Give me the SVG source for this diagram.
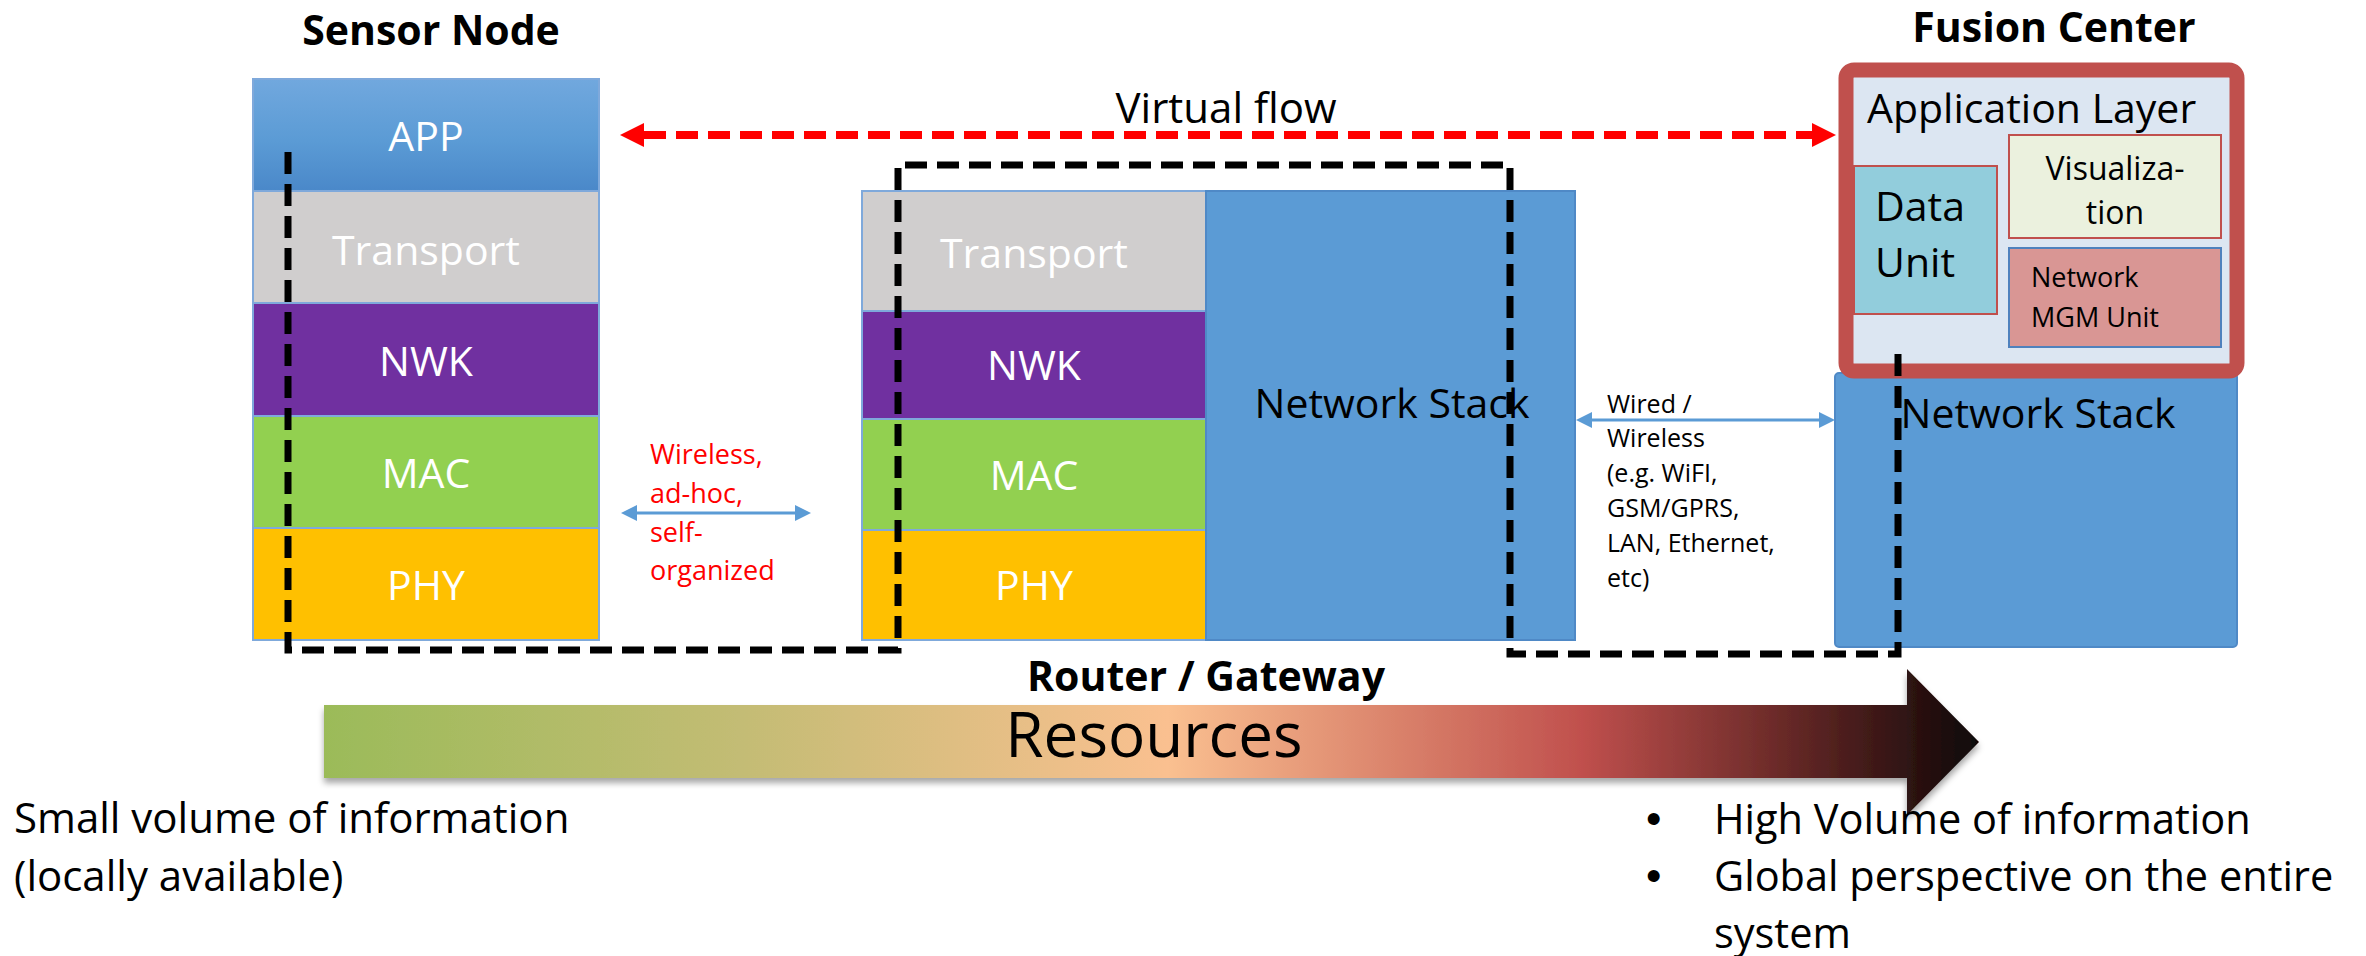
<svg xmlns="http://www.w3.org/2000/svg" width="2366" height="956" viewBox="0 0 2366 956">
<defs>
<style>
.t{font-family:"Open Sans","Liberation Sans",sans-serif;}
.lay{font-family:"Open Sans","Liberation Sans",sans-serif;font-size:41px;fill:#FFFFFF;text-anchor:middle;}
.blk{font-family:"Open Sans","Liberation Sans",sans-serif;fill:#000000;}
.ttl{font-family:"Open Sans","Liberation Sans",sans-serif;font-weight:bold;font-size:41px;fill:#000000;text-anchor:middle;}
.cell{stroke:#7FA9DB;stroke-width:2;}
.red{font-family:"Open Sans","Liberation Sans",sans-serif;font-size:27px;fill:#FF0000;}
.bul{font-family:"Liberation Sans",sans-serif;font-size:44px;fill:#000000;}
</style>
<linearGradient id="appG" x1="0" y1="0" x2="0" y2="1">
<stop offset="0" stop-color="#71A8DE"/>
<stop offset="0.55" stop-color="#5B9BD5"/>
<stop offset="1" stop-color="#4A88C9"/>
</linearGradient>
<linearGradient id="resG" gradientUnits="userSpaceOnUse" x1="324" y1="0" x2="1979" y2="0">
<stop offset="0" stop-color="#9BBB59"/>
<stop offset="0.25" stop-color="#C3BC74"/>
<stop offset="0.51" stop-color="#FAC090"/>
<stop offset="0.76" stop-color="#C0504D"/>
<stop offset="0.88" stop-color="#6A2A28"/>
<stop offset="1" stop-color="#0E0606"/>
</linearGradient>
<filter id="sh" x="-5%" y="-20%" width="110%" height="150%">
<feDropShadow dx="0" dy="5" stdDeviation="3" flood-color="#000000" flood-opacity="0.35"/>
</filter>
<marker id="redH" markerUnits="userSpaceOnUse" markerWidth="24" markerHeight="24" refX="0" refY="12" orient="auto-start-reverse">
<path d="M0,0 L24,12 L0,24 Z" fill="#FF0000"/>
</marker>
<marker id="bluH" markerUnits="userSpaceOnUse" markerWidth="16" markerHeight="16" refX="0" refY="8" orient="auto-start-reverse">
<path d="M0,0 L16,8 L0,16 Z" fill="#5B9BD5"/>
</marker>
</defs>
<rect x="0" y="0" width="2366" height="956" fill="#FFFFFF"/>

<g id="sensor-node">
<text class="ttl" x="431" y="45">Sensor Node</text>
<rect class="cell" x="253" y="79" width="346" height="112" fill="url(#appG)"/>
<rect class="cell" x="253" y="191" width="346" height="112" fill="#D0CECE"/>
<rect class="cell" x="253" y="303" width="346" height="113" fill="#7030A0"/>
<rect class="cell" x="253" y="416" width="346" height="112" fill="#92D050"/>
<rect class="cell" x="253" y="528" width="346" height="112" fill="#FFC000"/>
<text class="lay" x="426" y="151">APP</text>
<text class="lay" x="426" y="265">Transport</text>
<text class="lay" x="426" y="376">NWK</text>
<text class="lay" x="426" y="488">MAC</text>
<text class="lay" x="426" y="600">PHY</text>
</g>

<g id="router-gateway">
<rect class="cell" x="862" y="191" width="344" height="120" fill="#D0CECE"/>
<rect class="cell" x="862" y="311" width="344" height="108" fill="#7030A0"/>
<rect class="cell" x="862" y="419" width="344" height="111" fill="#92D050"/>
<rect class="cell" x="862" y="530" width="344" height="110" fill="#FFC000"/>
<rect x="1206" y="191" width="369" height="449" fill="#5B9BD5" stroke="#4F89C6" stroke-width="2"/>
<text class="lay" x="1034" y="268">Transport</text>
<text class="lay" x="1034" y="380">NWK</text>
<text class="lay" x="1034" y="490">MAC</text>
<text class="lay" x="1034" y="600">PHY</text>
<text class="blk" x="1392" y="418" font-size="41" text-anchor="middle">Network Stack</text>
<text class="ttl" x="1206" y="691" font-size="40">Router / Gateway</text>
</g>

<g id="fusion-center">
<text class="ttl" x="2054" y="42" font-size="40">Fusion Center</text>
<rect x="1835" y="373" width="402" height="274" rx="4" fill="#5B9BD5" stroke="#4F89C6" stroke-width="2"/>
<text class="blk" x="2038" y="428" font-size="41" text-anchor="middle">Network Stack</text>
<rect x="1846" y="70" width="391" height="301" rx="8" fill="#DCE6F2" stroke="#C0504D" stroke-width="15"/>
<text class="blk" x="1867" y="123" font-size="41">Application Layer</text>
<rect x="1854" y="166" width="143" height="148" fill="#92CDDC" stroke="#C0504D" stroke-width="2"/>
<text class="blk" x="1875" y="221" font-size="41">Data</text>
<text class="blk" x="1875" y="277" font-size="41">Unit</text>
<rect x="2009" y="135" width="212" height="103" fill="#EBF1DE" stroke="#C0504D" stroke-width="2"/>
<text class="blk" x="2115" y="180" font-size="32" text-anchor="middle">Visualiza-</text>
<text class="blk" x="2115" y="224" font-size="32" text-anchor="middle">tion</text>
<rect x="2009" y="248" width="212" height="99" fill="#D99694" stroke="#4F81BD" stroke-width="2"/>
<text class="blk" x="2031" y="287" font-size="27">Network</text>
<text class="blk" x="2031" y="327" font-size="27">MGM Unit</text>
</g>

<g id="resources">
<path d="M324,705 L1907,705 L1907,669 L1979,742 L1907,815 L1907,778 L324,778 Z" fill="url(#resG)" filter="url(#sh)"/>
<text class="blk" x="1154" y="757" font-size="62" text-anchor="middle">Resources</text>
</g>

<g id="notes">
<text class="blk" x="14" y="833" font-size="42">Small volume of information</text>
<text class="blk" x="14" y="891" font-size="42">(locally available)</text>
<text class="bul" x="1646" y="834">•</text>
<text class="blk" x="1714" y="834" font-size="41.5">High Volume of information</text>
<text class="bul" x="1646" y="891">•</text>
<text class="blk" x="1714" y="891" font-size="41.5">Global perspective on the entire</text>
<text class="blk" x="1714" y="948" font-size="41.5">system</text>
</g>

<g id="link-labels">
<text class="blk" x="1226" y="123" font-size="42" text-anchor="middle">Virtual flow</text>
<text class="red" x="650" y="464">Wireless,</text>
<text class="red" x="650" y="503">ad-hoc,</text>
<text class="red" x="650" y="542">self-</text>
<text class="red" x="650" y="580">organized</text>
<text class="blk" x="1607" y="413" font-size="25">Wired /</text>
<text class="blk" x="1607" y="447" font-size="25">Wireless</text>
<text class="blk" x="1607" y="482" font-size="25">(e.g. WiFI,</text>
<text class="blk" x="1607" y="517" font-size="25">GSM/GPRS,</text>
<text class="blk" x="1607" y="552" font-size="25">LAN, Ethernet,</text>
<text class="blk" x="1607" y="587" font-size="25">etc)</text>
</g>

<g id="connectors">
<line x1="644" y1="135" x2="1812" y2="135" stroke="#FF0000" stroke-width="8" stroke-dasharray="22 10" marker-start="url(#redH)" marker-end="url(#redH)"/>
<line x1="637" y1="513" x2="795" y2="513" stroke="#5B9BD5" stroke-width="3" marker-start="url(#bluH)" marker-end="url(#bluH)"/>
<line x1="1592" y1="420" x2="1819" y2="420" stroke="#5B9BD5" stroke-width="3" marker-start="url(#bluH)" marker-end="url(#bluH)"/>
<path d="M288,152 L288,650 L898,650 L898,165 L1510,165 L1510,654 L1898,654 L1898,348" fill="none" stroke="#000000" stroke-width="7" stroke-dasharray="22 10"/>
</g>
</svg>
